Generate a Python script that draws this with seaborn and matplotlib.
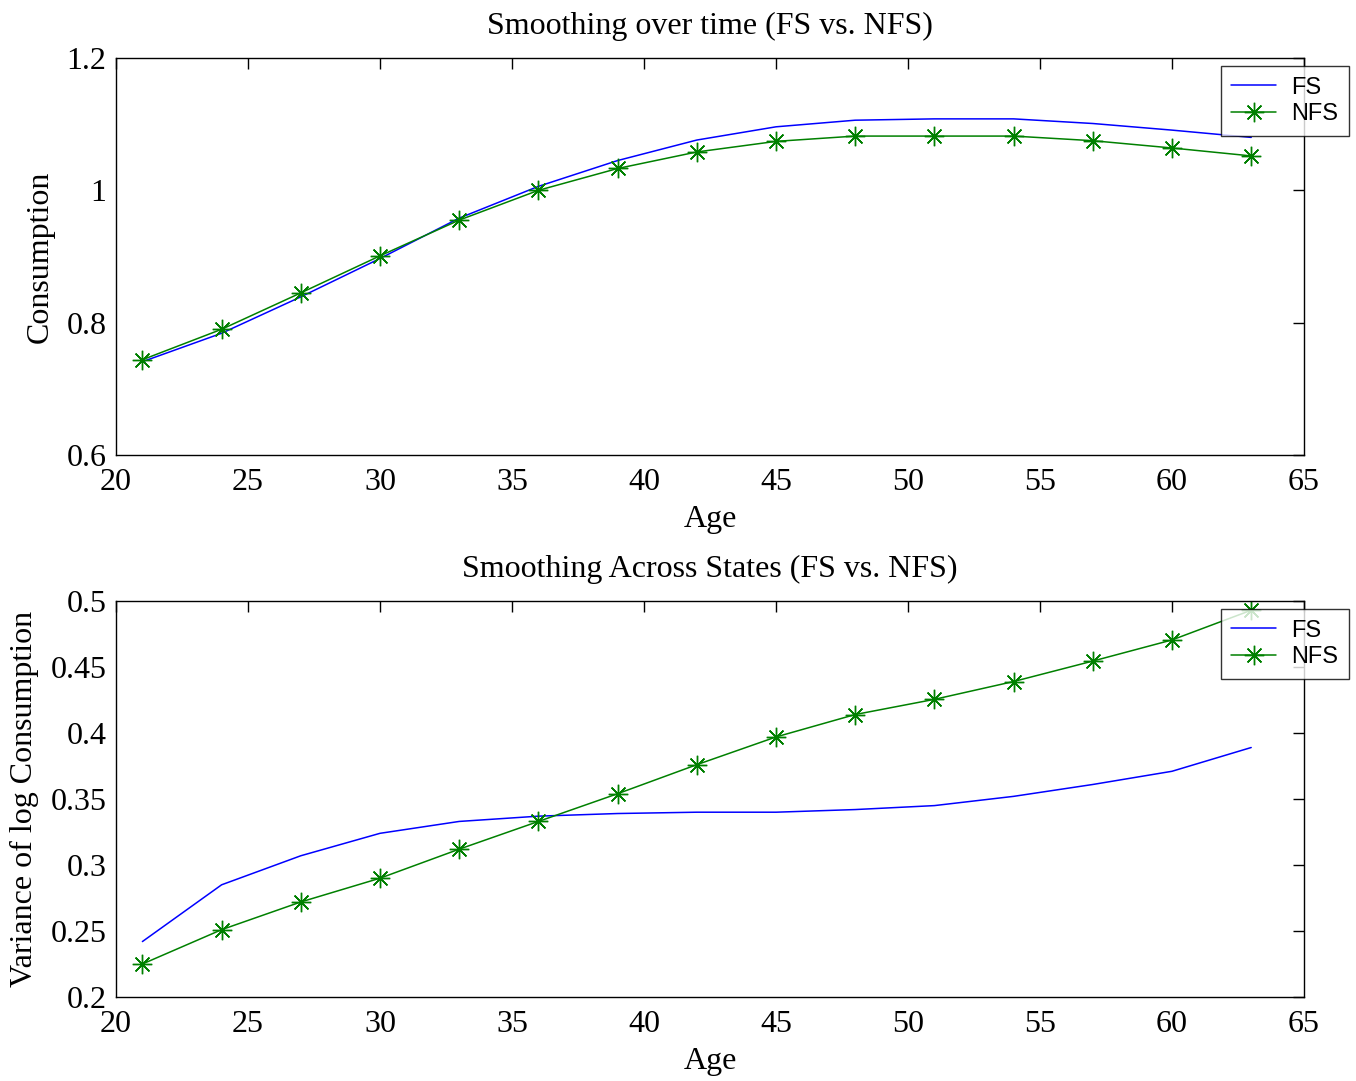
import numpy as np
import pandas as pd
import matplotlib
matplotlib.use("Agg")
import matplotlib.pyplot as plt
import seaborn as sns

# values
ages = [21, 24, 27, 30, 33, 36, 39, 42, 45, 48, 51, 54, 57, 60, 63]

cons_fs = [0.741, 0.784, 0.839, 0.897, 0.958, 1.006, 1.045, 1.076, 1.096,
           1.106, 1.108, 1.108, 1.101, 1.091, 1.080]
cons_nfs = [0.744, 0.790, 0.845, 0.901, 0.955, 1.000, 1.033, 1.058, 1.074,
            1.082, 1.082, 1.082, 1.075, 1.064, 1.052]

var_fs = [0.242, 0.285, 0.307, 0.324, 0.333, 0.337, 0.339, 0.340, 0.340,
          0.342, 0.345, 0.352, 0.361, 0.371, 0.389]
var_nfs = [0.225, 0.251, 0.272, 0.290, 0.312, 0.333, 0.354, 0.376, 0.397,
           0.414, 0.4255, 0.439, 0.4545, 0.4705, 0.493]

titles = ["Smoothing over time (FS vs. NFS)", "Smoothing Across States (FS vs. NFS)"]
ylabels = ["Consumption", "Variance of log Consumption"]
yticks = [[0.6, 0.8, 1.0, 1.2], [0.2, 0.25, 0.3, 0.35, 0.4, 0.45, 0.5]]
yticklabels = [["0.6", "0.8", "1", "1.2"],
               ["0.2", "0.25", "0.3", "0.35", "0.4", "0.45", "0.5"]]
xticks = [20, 25, 30, 35, 40, 45, 50, 55, 60, 65]

sns.set_style("white")
plt.rcParams["font.family"] = ["Liberation Serif", "DejaVu Serif"]
plt.rcParams["text.color"] = "black"
plt.rcParams["axes.labelcolor"] = "black"
plt.rcParams["xtick.color"] = "black"
plt.rcParams["ytick.color"] = "black"

FS = 23

fig = plt.figure(figsize=(13.56, 10.81), dpi=100)
ax_top = fig.add_axes([116 / 1356, 1 - 455 / 1081, 1188 / 1356, 397 / 1081])
ax_bot = fig.add_axes([116 / 1356, 1 - 997 / 1081, 1188 / 1356, 396 / 1081])

panels = [
    (ax_top, cons_fs, cons_nfs, (0.6, 1.2), 66),
    (ax_bot, var_fs, var_nfs, (0.2, 0.5), 609),
]

asterisk = (8, 2, 0)

for i, (ax, fs, nfs, ylim, leg_top) in enumerate(panels):
    df = pd.DataFrame({"Age": ages, "FS": fs, "NFS": nfs})
    sns.lineplot(data=df, x="Age", y="FS", ax=ax, color="#0000ff", lw=1.1, label="FS")
    sns.lineplot(data=df, x="Age", y="NFS", ax=ax, color="#008000", lw=1.1,
                 marker=asterisk, markersize=14, markeredgewidth=1.0,
                 markeredgecolor="#008000", label="NFS")

    ax.set_xlim(20, 65)
    ax.set_ylim(*ylim)
    ax.set_xticks(xticks)
    ax.set_xticklabels([str(t) for t in xticks])
    ax.set_yticks(yticks[i])
    ax.set_yticklabels(yticklabels[i])
    ax.tick_params(direction="in", length=8, width=1, top=True, right=True,
                   labelsize=FS, colors="black")
    ax.tick_params(axis="y", pad=7)
    ax.tick_params(axis="x", pad=9)
    for sp in ax.spines.values():
        sp.set_visible(True)
        sp.set_color("black")
        sp.set_linewidth(1.0)

    ax.set_title(titles[i], fontsize=FS, pad=17)
    ax.set_xlabel("Age", fontsize=FS, labelpad=6)
    ax.set_ylabel(ylabels[i], fontsize=FS, labelpad=8)

    leg = ax.legend(loc="upper right",
                    bbox_to_anchor=(1349 / 1356, 1 - leg_top / 1081),
                    bbox_transform=fig.transFigure, borderaxespad=0,
                    fancybox=False, frameon=True, handlelength=1.9,
                    handletextpad=0.65, borderpad=0.45, labelspacing=0.18,
                    prop={"family": ["Liberation Sans", "DejaVu Sans"], "size": 17})
    leg.get_frame().set_edgecolor("black")
    leg.get_frame().set_linewidth(1.0)
    leg.set_zorder(5)

fig.savefig("out.png", dpi=100, facecolor="white")
